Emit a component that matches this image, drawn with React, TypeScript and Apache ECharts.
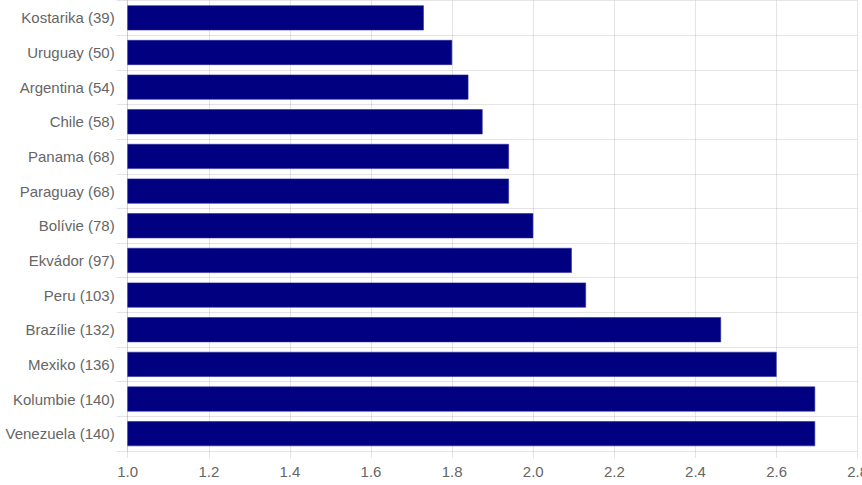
import React, { useEffect, useRef } from "react";
import * as echarts from "echarts";

const categories = [
  "Kostarika (39)",
  "Uruguay (50)",
  "Argentina (54)",
  "Chile (58)",
  "Panama (68)",
  "Paraguay (68)",
  "Bolívie (78)",
  "Ekvádor (97)",
  "Peru (103)",
  "Brazílie (132)",
  "Mexiko (136)",
  "Kolumbie (140)",
  "Venezuela (140)",
];

const values = [1.73, 1.8, 1.84, 1.875, 1.94, 1.94, 2.0, 2.095, 2.13, 2.463, 2.6, 2.695, 2.695];

const xMin = 1.0;
const xMax = 2.8;
const xInterval = 0.2;

export default function App() {
  const ref = useRef<HTMLDivElement>(null);
  useEffect(() => {
    if (!ref.current) return;
    const chart = echarts.init(ref.current, undefined, { renderer: "svg" });
    const gridColor = "rgba(0,0,0,0.1)";
    const font = "'Liberation Sans', Arial, Helvetica, sans-serif";
    chart.setOption({
      animation: false,
      grid: {
        left: 127.7,
        width: 730,
        top: 0.5,
        height: 450.5,
        containLabel: false,
        outerBoundsMode: "none",
      },
      xAxis: {
        type: "value",
        min: xMin,
        max: xMax,
        interval: xInterval,
        axisLine: { show: false },
        axisTick: { show: true, length: 7, lineStyle: { color: gridColor } },
        splitLine: { show: true, lineStyle: { color: gridColor, width: 1 } },
        axisLabel: {
          color: "#666",
          fontSize: 15,
          fontFamily: font,
          margin: 13,
          hideOverlap: false,
          formatter: (v: number) => v.toFixed(1),
        },
      },
      yAxis: {
        type: "category",
        data: categories,
        inverse: true,
        axisLine: { show: true, lineStyle: { color: gridColor } },
        axisTick: { show: true, length: 11, lineStyle: { color: gridColor } },
        splitLine: { show: true, lineStyle: { color: gridColor, width: 1 } },
        axisLabel: {
          color: "#666",
          fontSize: 15,
          fontFamily: font,
          margin: 13,
        },
      },
      series: [
        {
          type: "bar",
          data: values,
          barWidth: "72%",
          itemStyle: { color: "#000080", borderColor: "#2a2aa0", borderWidth: 0.6 },
        },
      ],
    });
    return () => chart.dispose();
  }, []);
  return (
    <div
      ref={ref}
      style={{ position: "fixed", left: 0, top: 0, width: 862, height: 485, background: "#fff" }}
    />
  );
}
